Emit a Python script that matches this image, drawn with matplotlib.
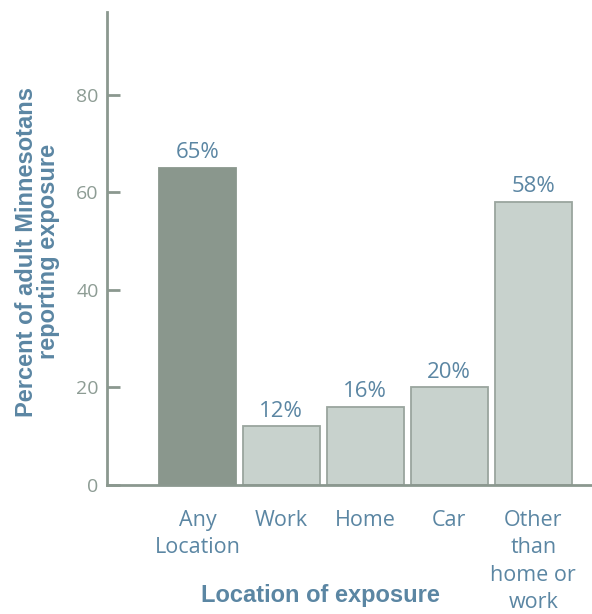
import matplotlib.pyplot as plt

# exposure location data
categories = ['Any\nLocation', 'Work', 'Home', 'Car', 'Other\nthan\nhome or\nwork']
percents = [65, 12, 16, 20, 58]
value_labels = ['65%', '12%', '16%', '20%', '58%']
y_ticks = [0, 20, 40, 60, 80]

plt.rcParams['font.family'] = ['Open Sans', 'DejaVu Sans']

axis_col = '#8b988f'
tick_col = '#8d9c94'
blue = '#5b86a3'
bold_font = ['Liberation Sans', 'DejaVu Sans']

fig = plt.figure(figsize=(5.92, 6.14), dpi=100)
ax = fig.add_axes([0.1807, 0.2101, 0.8193, 0.7704])

x = list(range(len(categories)))
colors = ['#8a978d'] + ['#c8d2cd'] * (len(categories) - 1)
edges = ['#8a978d'] + ['#9aa59e'] * (len(categories) - 1)
bars = ax.bar(x, percents, width=0.917, color=colors, edgecolor=edges, linewidth=1.3, zorder=2)

for b, lab in zip(bars, value_labels):
    ax.text(b.get_x() + b.get_width() / 2, b.get_height() + 1.0, lab,
            ha='center', va='bottom', fontsize=16, color=blue)

ax.set_xlim(-1.077, 4.70)
ax.set_ylim(0, 97)
ax.set_yticks(y_ticks)
ax.set_yticklabels([str(t) for t in y_ticks])
ax.set_xticks(x)
ax.set_xticklabels(categories, linespacing=1.4)

for s in ['top', 'right']:
    ax.spines[s].set_visible(False)
for s in ['left', 'bottom']:
    ax.spines[s].set_color(axis_col)
    ax.spines[s].set_linewidth(2)

ax.tick_params(axis='y', direction='in', length=9, width=2, color=axis_col,
               labelsize=14, labelcolor=tick_col, pad=6)
ax.tick_params(axis='x', length=0, labelsize=15.5, labelcolor=blue, pad=18)

ax.set_xlabel('Location of exposure', fontsize=17, fontweight='bold', color=blue,
              family=bold_font)
ax.xaxis.set_label_coords(0.44, -0.21)
ax.set_ylabel('Percent of adult Minnesotans\nreporting exposure', fontsize=17,
              fontweight='bold', color=blue, linespacing=0.95, family=bold_font)
ax.yaxis.set_label_coords(-0.097, 0.493)

fig.savefig('out.png', dpi=100)
